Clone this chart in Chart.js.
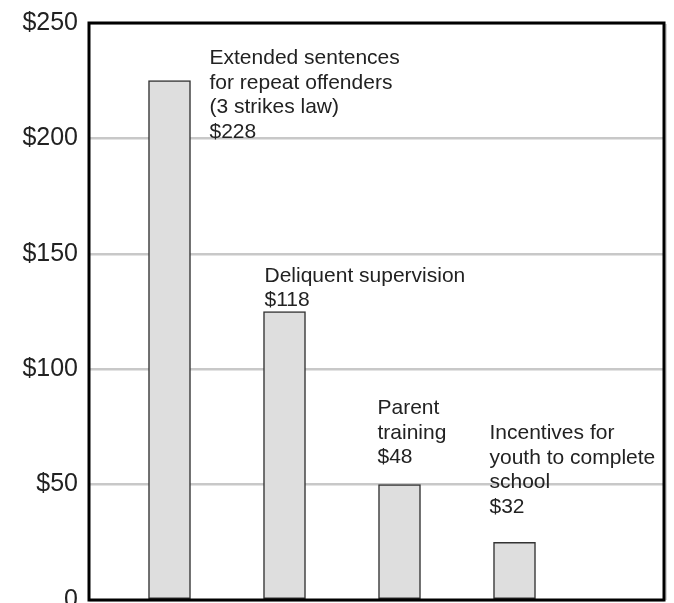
<!DOCTYPE html>
<html>
<head>
<meta charset="utf-8">
<script src="https://cdn.jsdelivr.net/npm/chart.js@4/dist/chart.umd.min.js"></script>
<style>
  html, body { margin: 0; padding: 0; background: #fff; }
  #wrap { width: 674px; height: 603px; }
</style>
</head>
<body>
<div id="wrap"><canvas id="c" width="674" height="603"></canvas></div>
<script>
// ---- data ----
const categories = [
  ["Extended sentences", "for repeat offenders", "(3 strikes law)", "$228"],
  ["Deliquent supervision", "$118"],
  ["Parent", "training", "$48"],
  ["Incentives for", "youth to complete", "school", "$32"]
];
const barValues = [225, 125, 50, 25];
const yTicks = [0, 50, 100, 150, 200, 250];

// ---- annotation placement (pixels relative to bar left / bar top) ----
const labelPlacement = [
  { dx: 61, dy: -16.5 },
  { dx: 1, dy: -30 },
  { dx: -1, dy: -70.5 },
  { dx: -4, dy: -103 }
];

const FONT = '"Liberation Sans", Arial, Helvetica, sans-serif';

const framePlugin = {
  id: 'frame',
  afterDraw(chart) {
    const { ctx, chartArea: a } = chart;
    ctx.save();
    ctx.strokeStyle = '#aaa';
    ctx.lineWidth = 1;
    ctx.beginPath();
    ctx.moveTo(a.right + 2, a.top + 1);
    ctx.lineTo(a.right + 2, a.bottom);
    ctx.stroke();
    ctx.strokeStyle = '#000';
    ctx.lineWidth = 3;
    ctx.strokeRect(a.left, a.top, a.right - a.left, a.bottom - a.top);
    ctx.restore();
  }
};

const labelPlugin = {
  id: 'barLabels',
  afterDatasetsDraw(chart) {
    const { ctx } = chart;
    const meta = chart.getDatasetMeta(0);
    ctx.save();
    ctx.fillStyle = '#222';
    ctx.font = '21px ' + FONT;
    ctx.textAlign = 'left';
    ctx.textBaseline = 'alphabetic';
    meta.data.forEach((bar, i) => {
      const left = bar.x - bar.width / 2;
      const p = labelPlacement[i];
      categories[i].forEach((line, j) => {
        ctx.fillText(line, left + p.dx, bar.y + p.dy + j * 24.5);
      });
    });
    ctx.restore();
  }
};

new Chart(document.getElementById('c'), {
  type: 'bar',
  data: {
    datasets: [{
      data: barValues.map((v, i) => ({ x: i, y: v })),
      backgroundColor: '#dedede',
      borderColor: '#333',
      borderWidth: 1.5,
      borderSkipped: false,
      barThickness: 42
    }]
  },
  options: {
    responsive: false,
    animation: false,
    devicePixelRatio: 1,
    layout: { padding: { top: 23, right: 10, bottom: 3, left: 0 } },
    plugins: { legend: { display: false }, tooltip: { enabled: false } },
    scales: {
      x: {
        type: 'linear',
        min: -0.7,
        max: 4.3,
        offset: false,
        display: false
      },
      y: {
        min: 0,
        max: 250,
        afterFit(s) {
          s.width = 89;
          s.paddingTop = 0;
          s.paddingBottom = 0;
        },
        afterBuildTicks(s) { s.ticks = yTicks.map(v => ({ value: v })); },
        border: { display: false },
        grid: {
          color: '#c8c8c8',
          lineWidth: 2.5,
          drawTicks: false
        },
        ticks: {
          color: '#222',
          padding: 11,
          font: { family: FONT, size: 25 },
          callback: v => v === 0 ? '0' : '$' + v
        }
      }
    }
  },
  plugins: [framePlugin, labelPlugin]
});
</script>
</body>
</html>
